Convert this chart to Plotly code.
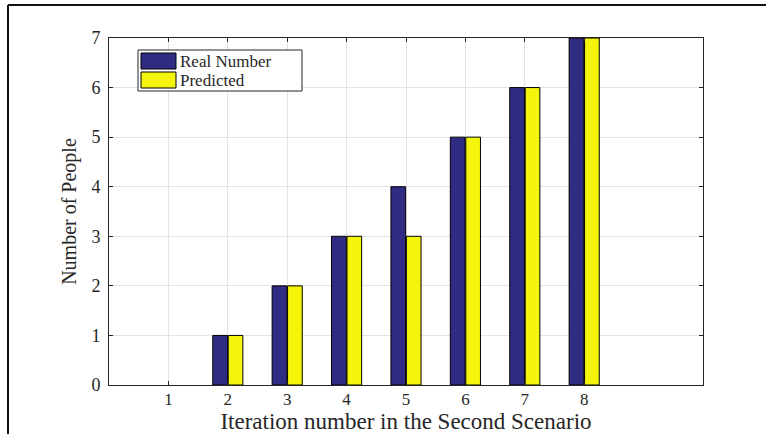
import plotly.graph_objects as go

iterations = [1, 2, 3, 4, 5, 6, 7, 8]
real_number = [0, 1, 2, 3, 4, 5, 6, 7]
predicted = [0, 1, 2, 3, 3, 5, 6, 7]
series_names = ["Real Number", "Predicted"]
series_colors = ["#302c83", "#f5f50c"]
x_ticks = [1, 2, 3, 4, 5, 6, 7, 8]
y_ticks = [0, 1, 2, 3, 4, 5, 6, 7]

W, H = 766, 434
L, R, T, B = 109, 63, 38, 49
pw, ph = W - L - R, H - T - B

FONT = "Liberation Serif"
TXT = "#262626"


def px_x(p):
    return (p - L) / pw


def px_y(p):
    return (H - B - p) / ph


fig = go.Figure()
for name, vals, col in zip(series_names, [real_number, predicted], series_colors):
    fig.add_trace(go.Bar(
        x=iterations, y=vals, name=name,
        marker=dict(color=col,
                    line=dict(color="#000000", width=[0 if v == 0 else 1 for v in vals])),
        showlegend=False))

# outer figure frame (top and left edges visible)
frame = dict(type="line", xref="paper", yref="paper", line=dict(color="#111111", width=2))
fig.add_shape(**frame, x0=px_x(8), x1=px_x(W + 5), y0=px_y(5), y1=px_y(5))
fig.add_shape(**frame, x0=px_x(8), x1=px_x(8), y0=px_y(5), y1=px_y(H + 5))

# legend box drawn like the MATLAB legend
fig.add_shape(type="rect", xref="paper", yref="paper",
              x0=px_x(138), x1=px_x(302), y0=px_y(50), y1=px_y(91),
              line=dict(color="#262626", width=1), fillcolor="white", layer="above")
row_tops = [52, 71]
for name, col, top in zip(series_names, series_colors, row_tops):
    fig.add_shape(type="rect", xref="paper", yref="paper",
                  x0=px_x(141), x1=px_x(176), y0=px_y(top + 1), y1=px_y(top + 17),
                  line=dict(color="#000000", width=1), fillcolor=col, layer="above")
    fig.add_annotation(xref="paper", yref="paper", x=px_x(179), y=px_y(top + 9),
                       xanchor="left", yanchor="middle", showarrow=False, borderpad=0,
                       text=name, font=dict(family=FONT, size=17, color=TXT))

axis_common = dict(showline=True, linecolor="#262626", linewidth=1, mirror="allticks",
                   ticks="inside", ticklen=4, tickcolor="#262626", automargin=False,
                   showgrid=True, gridcolor="#e3e3e3", gridwidth=1, zeroline=False,
                   tickfont=dict(family=FONT, size=18, color=TXT))

fig.update_layout(
    width=W, height=H,
    margin=dict(l=L, r=R, t=T, b=B),
    paper_bgcolor="white", plot_bgcolor="white",
    barmode="group", bargap=0.48, bargroupgap=0.05,
    showlegend=False,
    xaxis=dict(range=[0, 10], tickvals=x_ticks, ticktext=[str(v) for v in x_ticks],
               ticklabelstandoff=-1,
               title=dict(text="Iteration number in the Second Scenario",
                          font=dict(family=FONT, size=23, color=TXT), standoff=4),
               **axis_common),
    yaxis=dict(range=[0, 7], tickvals=y_ticks, ticktext=[str(v) for v in y_ticks],
               ticklabelstandoff=4,
               title=dict(text="Number of People",
                          font=dict(family=FONT, size=20, color=TXT), standoff=9),
               **axis_common),
)
fig.update_xaxes(tickfont=dict(size=17))

fig.write_html("out.html")
